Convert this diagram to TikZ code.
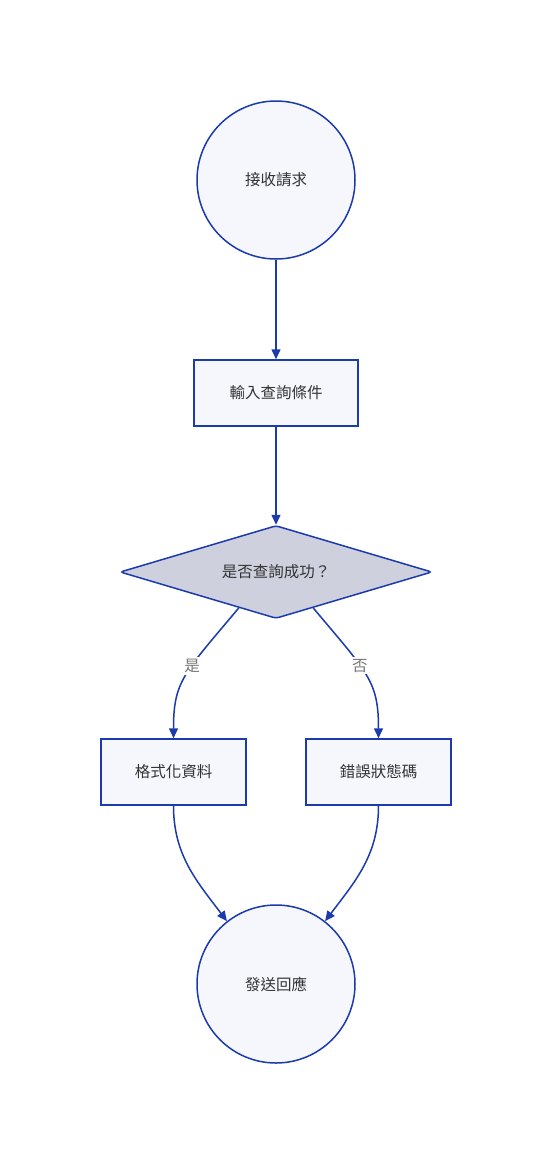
\documentclass[tikz,border=0pt]{standalone}
\usepackage{fontspec}
\usepackage{tikz}
\usetikzlibrary{shapes.geometric,arrows.meta}
\newfontfamily\cjk{Noto Sans CJK TC}
\definecolor{edgeblue}{HTML}{1A3AAE}
\definecolor{boxfill}{HTML}{F5F7FC}
\definecolor{decfill}{HTML}{CED1DD}
\definecolor{txtdark}{HTML}{333333}
\definecolor{lblgray}{HTML}{777777}

\begin{document}
\begin{tikzpicture}[
        x=1pt, y=1pt,
        every node/.style={font=\cjk\fontsize{15.5}{18}\selectfont, text=txtdark},
        flowcircle/.style={circle, draw=edgeblue, fill=boxfill, line width=1.5pt, minimum size=158pt, inner sep=0pt},
        flowbox/.style={rectangle, draw=edgeblue, fill=boxfill, line width=1.5pt, minimum height=66pt},
        flowdec/.style={diamond, aspect=3.35, draw=edgeblue, fill=decfill, line width=1.5pt, rounded corners=3pt,
            minimum width=312pt, minimum height=93pt, inner sep=0pt},
        flowline/.style={draw=edgeblue, line width=1.5pt, -{Triangle[length=10pt,width=9pt]}},
        flowlabel/.style={fill=white, text=lblgray, inner sep=2pt}
    ]
    \useasboundingbox (0,0) rectangle (552,-1165);

    \node[flowcircle] (recv) at (276,-180) {接收請求};
    \node[flowbox, minimum width=164pt] (input) at (276,-393) {輸入查詢條件};
    \node[flowdec] (dec) at (276,-572) {是否查詢成功？};
    \node[flowbox, minimum width=145pt] (fmt) at (173.5,-772) {格式化資料};
    \node[flowbox, minimum width=145pt] (err) at (378.5,-772) {錯誤狀態碼};
    \node[flowcircle] (reply) at (276,-984) {發送回應};

    \draw[flowline] (recv) -- (input);
    \draw[flowline] (input) -- (dec);
    \draw[flowline] (dec.224)
        to [out=230,in=90,out looseness=1.5] node[flowlabel,pos=0.4] {是} (fmt.north);
    \draw[flowline] (dec.316)
        to [out=-50,in=90,out looseness=1.5] node[flowlabel,pos=0.4] {否} (err.north);
    \draw[flowline] (fmt.south)
        to [out=-90,in=127] (reply.128);
    \draw[flowline] (err.south)
        to [out=-90,in=53] (reply.52);
\end{tikzpicture}
\end{document}
